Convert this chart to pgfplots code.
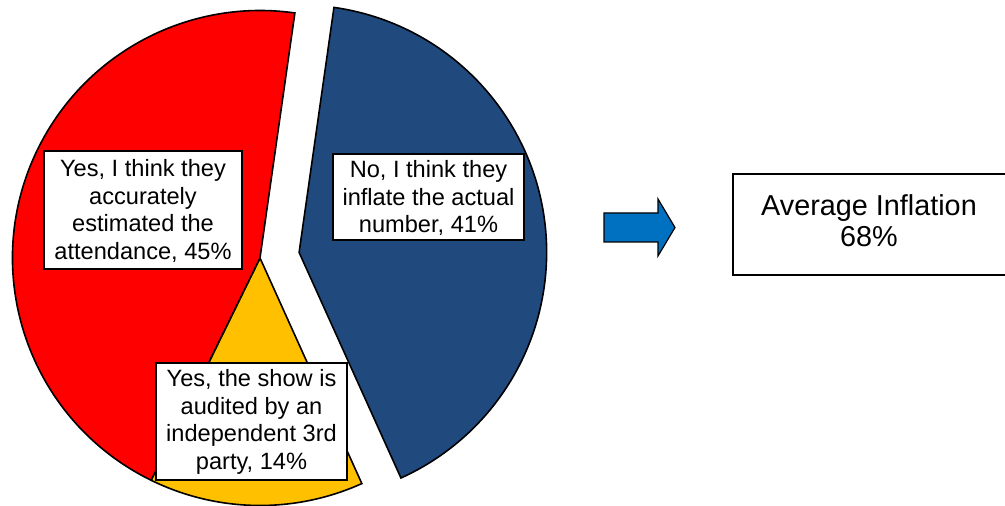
\documentclass[border=0pt]{standalone}
\usepackage{pgfplots}
\pgfplotsset{compat=1.18}
\usepackage{fontspec}
\setmainfont{Liberation Sans}
\definecolor{pieblue}{HTML}{204A7E}
\definecolor{piered}{HTML}{FF0000}
\definecolor{pieyellow}{HTML}{FFC000}
\definecolor{arrowblue}{HTML}{0070C0}
% data (percent)
\def\vNo{41}   % No, I think they inflate
\def\vAud{14}  % Yes, audited
\def\vYes{45}  % Yes, accurately estimated
\def\startang{81.9}
\def\R{247.5}
\begin{document}
\begin{tikzpicture}
\useasboundingbox (0,0) rectangle (1005pt,506pt);
\begin{axis}[
  width=1005pt, height=506pt, scale only axis,
  xmin=0, xmax=1005, ymin=0, ymax=506,
  hide axis, clip=false,
]
% angles from data
\pgfmathsetmacro{\aA}{\startang}
\pgfmathsetmacro{\aB}{\aA-3.6*\vNo}
\pgfmathsetmacro{\aC}{\aB-3.6*\vAud}
\pgfmathsetmacro{\aD}{\aC-3.6*\vYes}
\pgfmathsetmacro{\mid}{(\aA+\aB)/2}
% exploded blue slice
\filldraw[fill=pieblue, draw=black, line width=1.6pt, line join=miter]
  (axis cs:{260+39.5*cos(\mid)},{248+39.5*sin(\mid)}) -- ++(\aA:\R pt)
  arc[start angle=\aA, end angle=\aB, radius=\R pt] -- cycle;
% yellow slice
\filldraw[fill=pieyellow, draw=black, line width=1.6pt, line join=miter]
  (axis cs:260,248) -- ++(\aB:\R pt)
  arc[start angle=\aB, end angle=\aC, radius=\R pt] -- cycle;
% red slice
\filldraw[fill=piered, draw=black, line width=1.6pt, line join=miter]
  (axis cs:260,248) -- ++(\aC:\R pt)
  arc[start angle=\aC, end angle=\aD, radius=\R pt] -- cycle;
% labels
\filldraw[fill=white, draw=black, line width=1.6pt] (axis cs:44,237) rectangle (axis cs:242,355);
\node[align=center, font=\fontsize{23.6}{27.5}\selectfont] at (axis cs:143,295)
  {Yes, I think they\\accurately\\estimated the\\attendance, 45\%};
\filldraw[fill=white, draw=black, line width=1.6pt] (axis cs:333,266) rectangle (axis cs:524,352);
\node[align=center, font=\fontsize{23.6}{27.5}\selectfont] at (axis cs:428.5,308)
  {No, I think they\\inflate the actual\\number, 41\%};
\filldraw[fill=white, draw=black, line width=1.6pt] (axis cs:156,26) rectangle (axis cs:347,143);
\node[align=center, font=\fontsize{23.6}{27.5}\selectfont] at (axis cs:251.5,84)
  {Yes, the show is\\audited by an\\independent 3rd\\party, 14\%};
% arrow
\filldraw[fill=arrowblue, draw=black, line width=1.2pt, line join=miter]
  (axis cs:604,293) -- (axis cs:658,293) -- (axis cs:658,307) -- (axis cs:675,278.5)
  -- (axis cs:658,250) -- (axis cs:658,264) -- (axis cs:604,264) -- cycle;
% result box
\draw[black, line width=1.3pt] (axis cs:733,231) rectangle (axis cs:1012,332);
\node[align=center, font=\fontsize{28.8}{31}\selectfont] at (axis cs:869,285)
  {Average Inflation\\68\%};
\end{axis}
\end{tikzpicture}
\end{document}
